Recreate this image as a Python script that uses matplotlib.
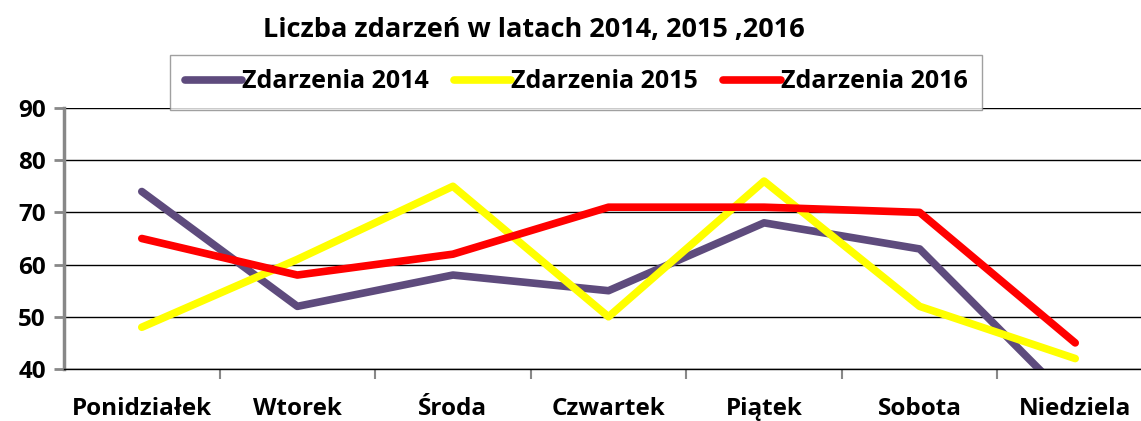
import matplotlib.pyplot as plt

days = ["Ponidziałek", "Wtorek", "Środa", "Czwartek", "Piątek", "Sobota", "Niedziela"]
events_2014 = [74, 52, 58, 55, 68, 63, 33]
events_2015 = [48, 61, 75, 50, 76, 52, 42]
events_2016 = [65, 58, 62, 71, 71, 70, 45]

plt.rcParams["font.family"] = ["Open Sans", "DejaVu Sans"]
plt.rcParams["font.weight"] = "bold"

fig = plt.figure(figsize=(11.41, 4.21), dpi=100)
# category spacing ~155 px, last column runs past the right edge
ax = fig.add_axes([64 / 1141, (421 - 369) / 421, (1153 - 64) / 1141, (369 - 108) / 421])

x = list(range(len(days)))
ax.plot(x, events_2014, color="#5e4b7d", lw=5.5, label="Zdarzenia 2014", solid_capstyle="round")
ax.plot(x, events_2015, color="#ffff00", lw=5.5, label="Zdarzenia 2015", solid_capstyle="round")
ax.plot(x, events_2016, color="#ff0000", lw=5.5, label="Zdarzenia 2016", solid_capstyle="round")

ax.set_xlim(-0.5, len(days) - 0.5)
ax.set_ylim(40, 90)
ax.set_yticks(range(40, 91, 10))
ax.set_xticks(x)
ax.set_xticklabels(days, fontsize=17.5, fontweight="bold")
ax.set_xticks([i + 0.5 for i in x[:-1]], minor=True)
ax.tick_params(axis="x", which="major", length=0, pad=20)
ax.tick_params(axis="x", which="minor", length=7, color="#888888", width=1.5)
ax.tick_params(axis="y", length=7, color="#888888", width=2, labelsize=17.5, pad=6)
for lab in ax.get_yticklabels():
    lab.set_fontweight("bold")

ax.grid(axis="y", color="black", lw=1)
ax.set_axisbelow(True)
for side in ("top", "right"):
    ax.spines[side].set_visible(False)
ax.spines["left"].set_color("#888888")
ax.spines["left"].set_linewidth(2.5)
ax.spines["bottom"].set_color("black")
ax.spines["bottom"].set_linewidth(1)

fig.text(534 / 1141, 1 - 30 / 421, "Liczba zdarzeń w latach 2014, 2015 ,2016",
         ha="center", va="center", fontsize=19.5, fontweight="bold")

leg = fig.legend(loc="center", bbox_to_anchor=(576 / 1141, 1 - 82 / 421), ncol=3,
                 frameon=True, fancybox=False, edgecolor="#888888", fontsize=18,
                 handlelength=2.3, handletextpad=0.0, columnspacing=1.0,
                 borderpad=0.6, borderaxespad=0)
leg.get_frame().set_linewidth(1)

fig.savefig("out.png", dpi=100)
